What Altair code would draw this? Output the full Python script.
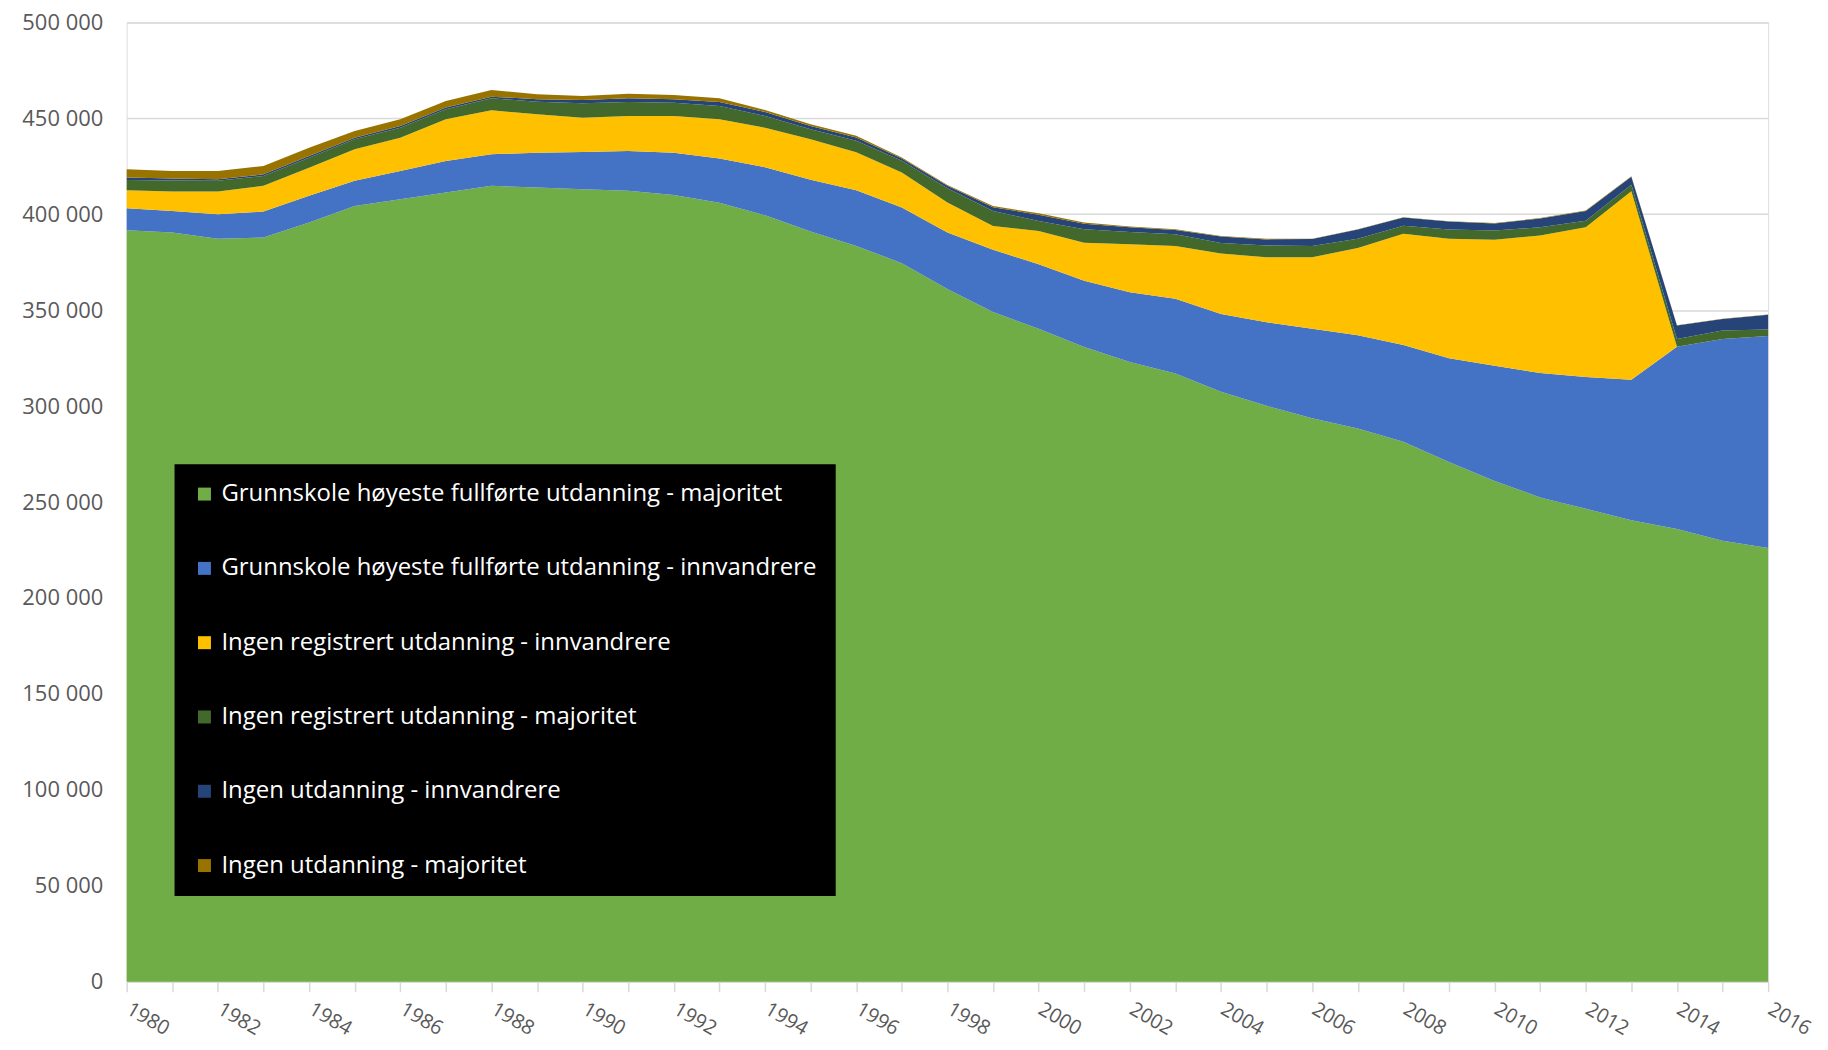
import altair as alt
import pandas as pd

years = list(range(1980, 2017))

series_names = [
    "Grunnskole høyeste fullførte utdanning - majoritet",
    "Grunnskole høyeste fullførte utdanning - innvandrere",
    "Ingen registrert utdanning - innvandrere",
    "Ingen registrert utdanning - majoritet",
    "Ingen utdanning - innvandrere",
    "Ingen utdanning - majoritet",
]
series_colors = ["#70AD47", "#4472C4", "#FFC000", "#43682B", "#264478", "#997300"]

# values in thousands, one per year 1980..2016
grunnskole_maj = [391.7, 390.5, 387.3, 387.9, 395.7, 404.3, 407.8, 411.3, 414.8, 413.9,
                  413.0, 412.2, 410.0, 406.0, 399.5, 391.0, 383.5, 374.5, 361.0, 349.0,
                  340.3, 330.8, 323.0, 317.0, 307.5, 300.2, 293.7, 288.3, 281.4, 270.9,
                  261.0, 252.4, 246.5, 240.5, 236.0, 229.9, 226.0]
grunnskole_inn = [11.4, 11.2, 12.7, 13.5, 13.9, 13.1, 14.8, 16.5, 16.5, 18.2,
                  19.5, 20.8, 22.0, 23.0, 25.0, 27.0, 29.0, 29.0, 29.5, 32.5,
                  33.7, 34.6, 36.4, 38.9, 40.5, 43.5, 46.6, 48.6, 50.4, 54.0,
                  60.0, 64.9, 68.7, 73.3, 95.0, 105.1, 110.5]
ingen_reg_inn = [9.4, 10.1, 11.8, 13.4, 14.7, 16.5, 17.3, 21.7, 22.9, 20.0,
                 17.8, 18.2, 19.2, 20.5, 20.6, 21.1, 19.8, 18.3, 15.6, 12.4,
                 17.3, 19.8, 25.0, 27.6, 31.5, 33.9, 37.3, 45.5, 58.0, 62.3,
                 65.7, 71.6, 78.0, 98.2, 0.0, 0.0, 0.0]
ingen_reg_maj = [5.4, 5.8, 5.6, 5.2, 5.2, 5.2, 5.2, 5.2, 6.2, 6.6,
                 7.5, 7.3, 6.9, 6.9, 6.1, 5.2, 6.0, 6.1, 7.5, 7.8,
                 5.2, 7.0, 6.4, 6.1, 5.5, 6.1, 5.9, 4.8, 4.2, 4.8,
                 4.8, 4.3, 3.4, 3.4, 4.0, 4.4, 3.5]
ingen_utd_inn = [1.2, 1.0, 0.8, 0.8, 0.9, 0.8, 0.9, 0.9, 0.9, 1.2,
                 1.7, 1.9, 1.8, 2.1, 2.1, 1.7, 1.7, 1.1, 1.2, 1.9,
                 3.3, 2.8, 2.4, 2.2, 3.4, 3.2, 3.6, 4.8, 4.3, 4.2,
                 3.7, 4.6, 5.1, 4.2, 7.0, 6.0, 7.6]
ingen_utd_maj = [4.3, 4.0, 4.4, 4.4, 4.3, 3.5, 3.5, 3.4, 3.5, 2.6,
                 2.1, 2.4, 2.3, 1.9, 1.0, 0.9, 0.9, 0.6, 0.5, 0.7,
                 0.7, 0.7, 0.4, 0.4, 0.3, 0.4, 0.2, 0.2, 0.2, 0.2,
                 0.2, 0.2, 0.2, 0.2, 0.1, 0.1, 0.1]

all_series = [grunnskole_maj, grunnskole_inn, ingen_reg_inn,
              ingen_reg_maj, ingen_utd_inn, ingen_utd_maj]

rows = []
for k, (name, vals) in enumerate(zip(series_names, all_series)):
    for yr, v in zip(years, vals):
        rows.append({"year": yr, "serie": name, "ord": k, "value": v * 1000})
df = pd.DataFrame(rows)

FONT = "Open Sans"
GRAY = "#595959"

chart = alt.Chart(df).mark_area(interpolate="linear").encode(
    x=alt.X(
        "year:Q",
        scale=alt.Scale(domain=[1980, 2016], nice=False, zero=False),
        axis=alt.Axis(
            title=None,
            values=years,
            labelExpr="datum.value % 2 == 0 ? '' + datum.value : ''",
            labelAngle=30,
            labelAlign="left",
            labelBaseline="top",
            labelPadding=7,
            labelOffset=6,
            labelFont=FONT,
            labelFontSize=20,
            labelColor=GRAY,
            labelOverlap=False,
            labelFlush=False,
            labelBound=False,
            grid=False,
            domainColor="#d9d9d9",
            domainWidth=1.5,
            tickColor="#d9d9d9",
            tickWidth=1.5,
            tickSize=10,
        ),
    ),
    y=alt.Y(
        "value:Q",
        stack="zero",
        scale=alt.Scale(domain=[0, 500000], nice=False),
        axis=alt.Axis(
            title=None,
            values=list(range(0, 500001, 50000)),
            labelExpr="replace(format(datum.value, ','), regexp(',', 'g'), ' ')",
            labelFont=FONT,
            labelFontSize=22,
            labelColor=GRAY,
            labelPadding=24,
            ticks=False,
            domain=False,
            gridColor="#d9d9d9",
            gridWidth=1.5,
        ),
    ),
    color=alt.Color(
        "serie:N",
        scale=alt.Scale(domain=series_names, range=series_colors),
        sort=series_names,
        legend=alt.Legend(
            title=None,
            orient="none",
            legendX=48,
            legendY=443,
            fillColor="#000000",
            padding=18,
            labelColor="#ffffff",
            labelFont=FONT,
            labelFontSize=24,
            labelLimit=900,
            labelOffset=5,
            symbolType="square",
            symbolSize=169,
            symbolStrokeWidth=0,
            rowPadding=50.5,
        ),
    ),
    order=alt.Order("ord:Q", sort="ascending"),
).properties(
    width=1646,
    height=962,
    autosize=alt.AutoSizeParams(type="none"),
    padding={"left": 119, "top": 13, "right": 52, "bottom": 59},
).configure_view(
    stroke=None
).configure(
    background="#ffffff"
)

chart.save("out.html", embed_options={"renderer": "svg", "actions": False})
